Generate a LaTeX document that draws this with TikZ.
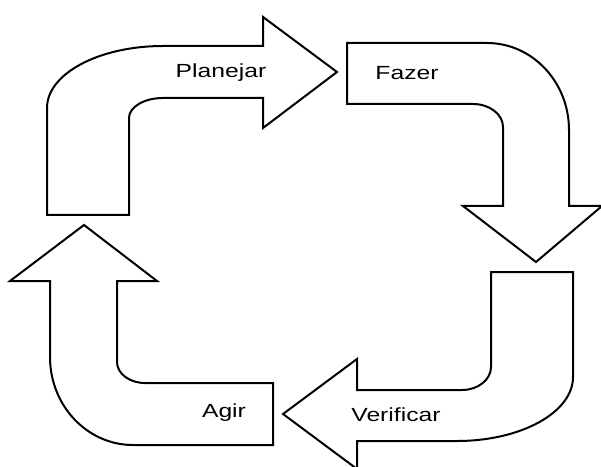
\documentclass[tikz,border=0pt]{standalone}
\usepackage{fontspec}
\setmainfont{Liberation Sans}
\usetikzlibrary{positioning}

\begin{document}
\begin{tikzpicture}[
    x=1pt, y=1pt,
    bentarrow/.style={draw, line width=2pt, line join=miter, fill=white},
    steptext/.style={font=\fontsize{19}{21}\selectfont, xscale=1.3, inner sep=0pt}
]

\clip (0,0) rectangle (601,466);

% Planejar
\draw[bentarrow] (47,251) -- (47,358) arc[start angle=180, end angle=90, x radius=116, y radius=62]
    -- (263,420) -- (263,449) -- (337,394) -- (263,338) -- (263,368) -- (163,368)
    arc[start angle=90, end angle=180, x radius=34, y radius=20] -- (129,251) -- cycle;

% Fazer
\draw[bentarrow] (347,423) -- (487,423) arc[start angle=90, end angle=0, x radius=82, y radius=87]
    -- (569,260) -- (602,260) -- (536,204) -- (463,260) -- (503,260) -- (503,339)
    arc[start angle=0, end angle=90, x radius=30, y radius=23] -- (347,362) -- cycle;

% Verificar
\draw[bentarrow] (491,194) -- (573,194) -- (573,89)
    arc[start angle=0, end angle=-90, x radius=116, y radius=64]
    -- (357,25) -- (357,-3) -- (283,52) -- (357,107) -- (357,76) -- (462,76)
    arc[start angle=-90, end angle=0, x radius=29, y radius=23] -- cycle;

% Agir
\draw[bentarrow] (84,241) -- (157,185) -- (117,185) -- (117,104)
    arc[start angle=180, end angle=270, x radius=28, y radius=21]
    -- (273,83) -- (273,21) -- (133,21)
    arc[start angle=270, end angle=180, x radius=83, y radius=88]
    -- (50,185) -- (10,185) -- cycle;

% textos
\node[steptext] (plan) at (221,393) {Planejar};
\node[steptext] (faz) at (407,393) {Fazer};
\node[steptext] (ver) at (396,51) {Verificar};
\node[steptext] (agir) at (224,53) {Agir};

\end{tikzpicture}
\end{document}
